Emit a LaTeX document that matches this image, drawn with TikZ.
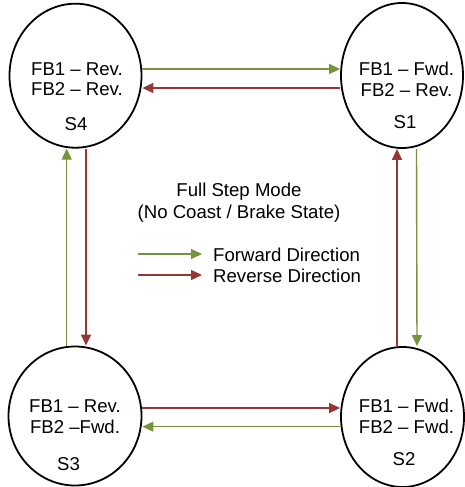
\documentclass[tikz,border=0pt]{standalone}
\usepackage{fontspec}
\setmainfont{Liberation Sans}
\usetikzlibrary{arrows.meta,shapes.geometric}
\definecolor{fwdgreen}{RGB}{119,147,60}
\definecolor{revred}{RGB}{149,55,53}
\begin{document}
\begin{tikzpicture}[x=1pt,y=-1pt,
  state/.style={draw=black,line width=1.8pt,ellipse,inner sep=0pt},
  lbl/.style={anchor=base,inner sep=0pt,font=\fontsize{18.6}{21}\selectfont},
  fwd/.style={draw=fwdgreen,line width=1.4pt,-{Triangle[length=11pt,width=10pt]}},
  rev/.style={draw=revred,line width=1.4pt,-{Triangle[length=11pt,width=10pt]}}]
\useasboundingbox (0,0) rectangle (465,487);
% states
\node[state,minimum width=132pt,minimum height=144pt] (S4) at (75.5,75.7) {};
\node[state,minimum width=122pt,minimum height=145pt] (S1) at (402,75.5) {};
\node[state,minimum width=133pt,minimum height=139pt] (S3) at (75,416) {};
\node[state,minimum width=123pt,minimum height=140pt] (S2) at (402.5,417) {};
% texts
\node[lbl] (t4a) at (77,75) {FB1 -- Rev.};
\node[lbl] (t4b) at (77,95) {FB2 -- Rev.};
\node[lbl] (t4c) at (76,130) {S4};
\node[lbl] (t1a) at (406.5,75) {FB1 -- Fwd.};
\node[lbl] (t1b) at (406.5,96) {FB2 -- Rev.};
\node[lbl] (t1c) at (405,128.5) {S1};
\node[lbl] (t3a) at (75,412.5) {FB1 -- Rev.};
\node[lbl] (t3b) at (75,433) {FB2 --Fwd.};
\node[lbl] (t3c) at (68.5,470) {S3};
\node[lbl] (t2a) at (406.5,412.5) {FB1 -- Fwd.};
\node[lbl] (t2b) at (406.5,433) {FB2 -- Fwd.};
\node[lbl] (t2c) at (404,465) {S2};
% center legend
\node[lbl] (title1) at (239,196.5) {Full Step Mode};
\node[lbl] (title2) at (239,218.5) {(No Coast / Brake State)};
\coordinate (lg1) at (138,254);
\coordinate (lg1e) at (202,254);
\coordinate (lg2) at (138,275);
\coordinate (lg2e) at (202,275);
\draw[fwd] (lg1) -- (lg1e);
\draw[rev] (lg2) -- (lg2e);
\node[lbl,anchor=base west] (lf) at (213,261) {Forward Direction};
\node[lbl,anchor=base west] (lr) at (213,282.5) {Reverse Direction};
% transitions
\draw[fwd] ([yshift=6.7pt]S4.east) -- ([yshift=6.5pt]S1.west);
\draw[rev] ([yshift=-12.5pt]S1.west) -- ([yshift=-12.3pt]S4.east);
\draw[fwd] ([xshift=14.5pt]S1.south) -- ([xshift=14.5pt]S2.north);
\draw[rev] ([xshift=-5.5pt]S2.north) -- ([xshift=-5pt]S1.south);
\draw[rev] ([yshift=8pt]S3.east) -- ([yshift=9pt]S2.west);
\draw[fwd] ([yshift=-9.7pt]S2.west) -- ([yshift=-10.7pt]S3.east);
\draw[fwd] ([xshift=-8.3pt]S3.north) -- ([xshift=-8.8pt]S4.south);
\draw[rev] ([xshift=10.5pt]S4.south) -- ([xshift=11pt]S3.north);
\end{tikzpicture}
\end{document}
